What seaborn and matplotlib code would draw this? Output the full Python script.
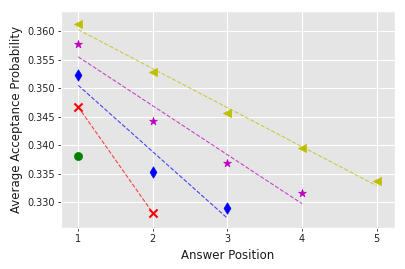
import matplotlib
matplotlib.use("Agg")
import matplotlib.pyplot as plt
import seaborn as sns
import numpy as np
import pandas as pd

plt.style.use("ggplot")

# data (answer position -> average acceptance probability), one series per answer count
pos1 = [1]
val1 = [0.3380]
pos2 = [1, 2]
val2 = [0.3467, 0.3281]
pos3 = [1, 2, 3]
val3 = [0.3523, 0.3352, 0.3290]
pos4 = [1, 2, 3, 4]
val4 = [0.3577, 0.3443, 0.3368, 0.3316]
pos5 = [1, 2, 3, 4, 5]
val5 = [0.3612, 0.3528, 0.3457, 0.3394, 0.3337]
xticks = [1, 2, 3, 4, 5]
yticks = [0.330, 0.335, 0.340, 0.345, 0.350, 0.355, 0.360]

series = [
    (pos1, val1, "g", "o"),
    (pos2, val2, "r", "x"),
    (pos3, val3, "b", "d"),
    (pos4, val4, "m", "*"),
    (pos5, val5, "y", "<"),
]

fig, ax = plt.subplots(figsize=(4.05, 2.69), dpi=100)

for xs, ys, c, m in series:
    df = pd.DataFrame({"x": xs, "y": ys})
    ax.scatter(df["x"], df["y"], color=c, marker=m, s=34, zorder=3,
               linewidths=1.5 if m == "x" else None)
    if len(xs) > 1:
        sns.regplot(data=df, x="x", y="y", ax=ax, scatter=False, ci=None,
                    color=c, line_kws={"linestyle": "--", "linewidth": 0.8, "alpha": 0.7})

ax.set_xlim(0.772, 5.245)
ax.set_ylim(0.32544, 0.3635)
ax.set_xticks(xticks)
ax.set_yticks(yticks)
ax.set_yticklabels([f"{v:.3f}" for v in yticks])
ax.set_xlabel("Answer Position", color="#1a1a1a", fontsize=8.5, labelpad=3)
ax.set_ylabel("Average Acceptance Probability", color="#1a1a1a", fontsize=8.5, labelpad=3)
ax.tick_params(colors="#333333", labelsize=7, length=2.5, width=0.7, pad=2)
for lab in ax.get_xticklabels() + ax.get_yticklabels():
    lab.set_color("#222222")

fig.subplots_adjust(left=0.151, right=0.975, top=0.959, bottom=0.152)
fig.savefig("out.png", dpi=100)
